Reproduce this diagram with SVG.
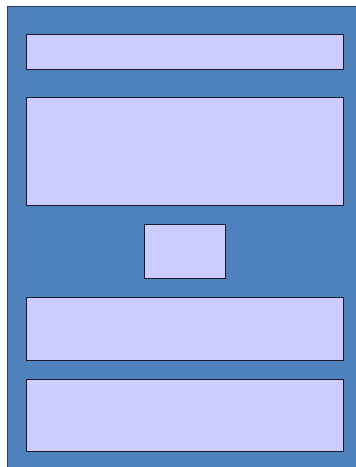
<svg xmlns="http://www.w3.org/2000/svg" width="356" height="467" viewBox="0 0 356 467">
<style>
.bg{fill:#4f81bd;stroke:#2c3e58;stroke-width:1}
.box{fill:#ccccff;stroke:#1a1a2e;stroke-width:1}
</style>
<rect x="0" y="0" width="356" height="467" fill="#ffffff"/>
<rect class="bg" x="7.5" y="6.5" width="350" height="462"/>
<g id="node1"><rect class="box" x="26.5" y="34.5" width="317" height="35"/></g>
<g id="node2"><rect class="box" x="26.5" y="97.5" width="317" height="108"/></g>
<g id="node3"><rect class="box" x="144.5" y="224.5" width="81" height="54"/></g>
<g id="node4"><rect class="box" x="26.5" y="297.5" width="317" height="63"/></g>
<g id="node5"><rect class="box" x="26.5" y="379.5" width="317" height="72"/></g>
<g id="connectors"></g>
</svg>
